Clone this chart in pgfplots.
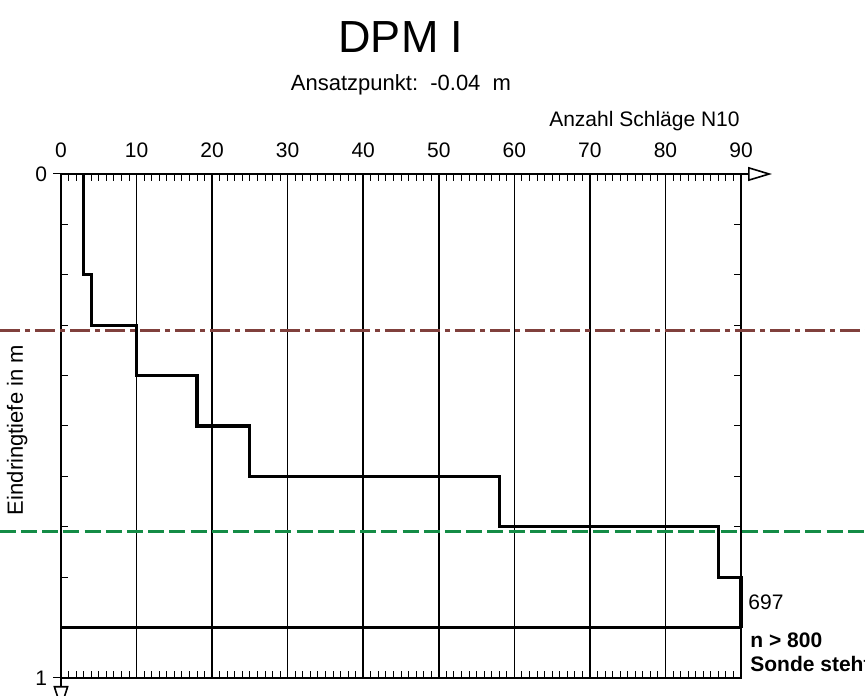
\documentclass[border=0pt]{standalone}
\usepackage{fontspec}
\setmainfont{Liberation Sans}
\usepackage{pgfplots}
\pgfplotsset{compat=1.18}
\usetikzlibrary{arrows.meta}
\definecolor{brownl}{RGB}{128,64,60}
\definecolor{greenl}{RGB}{20,140,70}
\begin{document}
\begin{tikzpicture}
\begin{axis}[
  scale only axis, width=340pt, height=252pt,
  xmin=0, xmax=90, ymin=0, ymax=1, y dir=reverse,
  clip=false,
  axis line style={line width=1.1pt},
  xtick={0,10,...,90}, minor x tick num=9,
  xticklabel pos=upper,
  ytick={0,1}, minor ytick={0.1,0.2,0.3,0.4,0.5,0.6,0.7,0.8,0.9},
  tick align=inside,
  major tick length=3.5pt, minor tick length=3.5pt,
  every tick/.style={black, line width=0.5pt},
  xmajorgrids, major grid style={black, line width=0.8pt},
  ticklabel style={font=\fontsize{10.5}{12}\selectfont},
  /pgf/number format/assume math mode=true,
  xticklabel style={yshift=4.75pt},
  yticklabel style={xshift=-3.5pt},
]
\addplot[brownl, line width=1.6pt, dash pattern=on 10pt off 2.5pt on 2.5pt off 2.5pt] coordinates {(-8.1,0.31) (106.5,0.31)};
\addplot[greenl, line width=1.5pt, dash pattern=on 8pt off 2.6pt] coordinates {(-8.1,0.71) (106.5,0.71)};
\addplot[black, line width=1.6pt] coordinates {(3,0) (3,0.1) (3,0.2) (4,0.2) (4,0.3) (10,0.3) (10,0.4) (18,0.4) (18,0.5) (25,0.5) (25,0.6) (58,0.6) (58,0.7) (87,0.7) (87,0.8) (90,0.8) (90,0.9)};
\addplot[black, line width=1.6pt] coordinates {(0,0.9) (90,0.9)};
\coordinate (bl) at (axis cs:0,1);
\coordinate (tr) at (axis cs:90,0);
\draw[line width=0.5pt] (axis cs:0,0) -- ++(-4pt,0pt);
\draw[line width=0.5pt] (axis cs:0,1) -- ++(-4pt,0pt);
\draw[line width=1.1pt, -{Triangle[open, length=12pt, width=7pt, line width=0.8pt]}] (axis cs:90,0) -- ++(15.5pt,0pt);
\draw[line width=1.1pt, -{Triangle[open, length=12pt, width=7.5pt, line width=0.8pt]}] (axis cs:0,1) -- ++(0pt,-16pt);
\node[anchor=base, yshift=60.5pt, inner sep=0pt, font=\fontsize{22.5}{26}\selectfont] at (axis cs:45,0) {DPM I};
\node[anchor=base, yshift=41.75pt, inner sep=0pt, font=\fontsize{11}{13}\selectfont] at (axis cs:45,0) {Ansatzpunkt:\ \ -0.04\ \ m};
\node[anchor=base east, yshift=23.5pt, xshift=-0.5pt, inner sep=0pt, font=\fontsize{10.5}{12}\selectfont] at (axis cs:90,0) {Anzahl Schläge N10};
\node[anchor=base, rotate=90, inner sep=0pt, font=\fontsize{11}{13}\selectfont] at ([xshift=-19pt]axis cs:0,0.508) {Eindringtiefe in m};
\node[anchor=base west, xshift=3.5pt, inner sep=0pt, font=\fontsize{10.5}{12}\selectfont] at (axis cs:90,0.865) {697};
\node[anchor=base west, xshift=4.5pt, inner sep=0pt, font=\fontsize{10.5}{12}\selectfont\bfseries] at (axis cs:90,0.9385) {n > 800};
\node[anchor=base west, xshift=4.5pt, inner sep=0pt, font=\fontsize{10.5}{12}\selectfont\bfseries] at (axis cs:90,0.988) {Sonde steht};
\end{axis}
\pgfresetboundingbox
\path[use as bounding box] ([shift={(-30.5pt,-9pt)}]bl) rectangle ([shift={(62pt,87pt)}]tr);
\end{tikzpicture}
\end{document}
